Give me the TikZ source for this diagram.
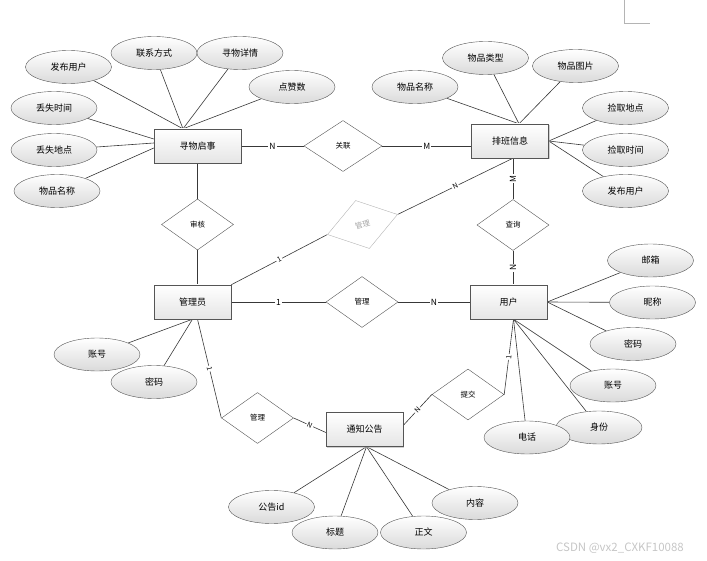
\documentclass[tikz,border=0pt]{standalone}
\usepackage{fontspec}
\setmainfont{Noto Sans CJK SC}
\usetikzlibrary{shapes.geometric,shadows,backgrounds}
\definecolor{Edge}{HTML}{383838}
\definecolor{Rim}{HTML}{555555}
\definecolor{Shade}{HTML}{DADADA}
\definecolor{Faint}{HTML}{B4B4B4}

\begin{document}
\begin{tikzpicture}[x=1pt,y=-1pt,
  entity/.style={draw=Rim,top color=white,bottom color=Shade!70,minimum width=#1,minimum height=34pt,inner sep=0pt,font=\fontsize{9}{10}\selectfont,drop shadow={shadow xshift=1pt,shadow yshift=-1pt,fill=gray!60,opacity=.6}},
  entity/.default=77pt,
  attr/.style={draw=Rim,ellipse,top color=white,bottom color=Shade,minimum width=86pt,minimum height=33pt,inner sep=0pt,font=\fontsize{9}{10}\selectfont},
  rel/.style={draw=Rim,diamond,fill=white,minimum width=72pt,minimum height=51pt,inner sep=0pt,font=\fontsize{7.5}{9}\selectfont},
  link/.style={draw=Edge,line width=0.6pt},
  card/.style={fill=white,inner sep=1pt,font=\fontsize{8.5}{9}\selectfont},
  tilt/.style={card,sloped,font=\fontsize{7}{8}\selectfont}
]
\useasboundingbox (0,0) rectangle (707,561);
% entities
\node[entity=87pt] (xw) at (197.5,146) {寻物启事};
\node[entity] (pb) at (510,141) {排班信息};
\node[entity] (gly) at (192.5,302) {管理员};
\node[entity] (yh) at (508.5,302) {用户};
\node[entity] (tz) at (364.5,429.5) {通知公告};
% relations
\node[rel,minimum width=78pt] (gl0) at (343,146) {关联};
\node[rel] (sh) at (197.5,224.5) {审核};
\node[rel,rotate=16,draw=Faint,text=gray!70,minimum width=73pt,minimum height=50pt] (gl1) at (362.5,224.5) {管理};
\node[rel] (gl2) at (362,302) {管理};
\node[rel] (gl3) at (257.5,418) {管理};
\node[rel] (cx) at (513,225) {查询};
\node[rel] (tj) at (468,394.5) {提交};
% attributes of 寻物启事
\node[attr] (fbyh) at (68.5,67) {发布用户};
\node[attr] (lxfs) at (154,53) {联系方式};
\node[attr] (xwxq) at (240,53) {寻物详情};
\node[attr] (dzs) at (292,87) {点赞数};
\node[attr] (dssj) at (54,108) {丢失时间};
\node[attr] (dsdd) at (54,150) {丢失地点};
\node[attr] (wpmc) at (57,191) {物品名称};
% attributes of 排班信息
\node[attr] (wpmc2) at (415,87) {物品名称};
\node[attr] (wplx) at (485.5,58) {物品类型};
\node[attr] (wptp) at (575.5,66) {物品图片};
\node[attr] (jqdd) at (625.5,108) {捡取地点};
\node[attr] (jqsj) at (625.5,150) {捡取时间};
\node[attr] (fbyh2) at (625.5,191) {发布用户};
% attributes of 管理员
\node[attr] (zh) at (97,354.5) {账号};
\node[attr] (mm) at (154,382) {密码};
% attributes of 用户
\node[attr] (yx) at (650.5,260.5) {邮箱};
\node[attr] (nc) at (652.5,302.5) {昵称};
\node[attr] (mm2) at (633,344) {密码};
\node[attr] (zh2) at (613,385.5) {账号};
\node[attr] (sf) at (599,427.5) {身份};
\node[attr] (dh) at (527,437.5) {电话};
% attributes of 通知公告
\node[attr] (ggid) at (271.5,507) {公告id};
\node[attr] (bt) at (335,532.5) {标题};
\node[attr] (zw) at (423.5,532.5) {正文};
\node[attr] (nr) at (475,503) {内容};

\begin{scope}[on background layer]
\foreach \a in {fbyh,lxfs,xwxq,dzs}
  \draw[link] (\a) -- ([xshift=-14.5pt]xw.north);
\draw[link] (dssj) -- ([yshift=7pt]xw.west);
\draw[link] (dsdd) -- ([yshift=3pt]xw.west);
\draw[link] (wpmc) -- ([yshift=-2pt]xw.west);
\foreach \a in {wpmc2,wplx,wptp}
  \draw[link] (\a) -- ([xshift=9pt]pb.north);
\foreach \a in {jqdd,jqsj,fbyh2}
  \draw[link] (\a) -- (pb.east);
\foreach \a in {zh,mm}
  \draw[link] (\a) -- (gly.south);
\foreach \a in {yx,nc,mm2}
  \draw[link] (\a) -- (yh.east);
\foreach \a in {zh2,sf,dh}
  \draw[link] (\a) -- ([xshift=5pt]yh.south);
\foreach \a in {ggid,bt,zw,nr}
  \draw[link] (\a) -- ([xshift=2pt]tz.south);
% relation links
\draw[link] (xw.east) -- (gl0.west) node[card,midway] {N};
\draw[link] (gl0.east) -- ([yshift=-5pt]pb.west) node[card,midway] {M};
\draw[link] (xw.south) -- (sh.north);
\draw[link] (sh.south) -- ([xshift=5pt]gly.north);
\draw[link] ([xshift=3pt]pb.south) -- (cx.north) node[card,midway,rotate=90] {M};
\draw[link] (cx.south) -- ([xshift=4.5pt]yh.north) node[card,midway,rotate=90] {N};
\draw[link] (gly.east) -- (gl2.west) node[card,midway] {1};
\draw[link] (gl2.east) -- (yh.west) node[card,midway] {N};
\draw[link] (gly.north east) -- (gl1.west) node[tilt,midway] {1};
\draw[link] (gl1.east) -- ([xshift=3pt]pb.south) node[tilt,midway] {N};
\draw[link] ([xshift=5pt]gly.south) -- (gl3.west) node[tilt,midway] {1};
\draw[link] (gl3.east) -- ([yshift=-3pt]tz.west) node[tilt,midway] {N};
\draw[link] ([yshift=4pt]tz.east) -- (tj.west) node[tilt,midway] {N};
\draw[link] (tj.east) -- ([xshift=5pt]yh.south) node[tilt,midway] {1};
\end{scope}

% page corner mark and watermark
\draw[Faint,line width=0.5pt] (624,0) -- (624,23) -- (650,23);
\node[text=gray!45,font=\fontsize{11.5}{13}\selectfont] (wm) at (620,548) {CSDN @vx2\_CXKF10088};
\end{tikzpicture}
\end{document}
